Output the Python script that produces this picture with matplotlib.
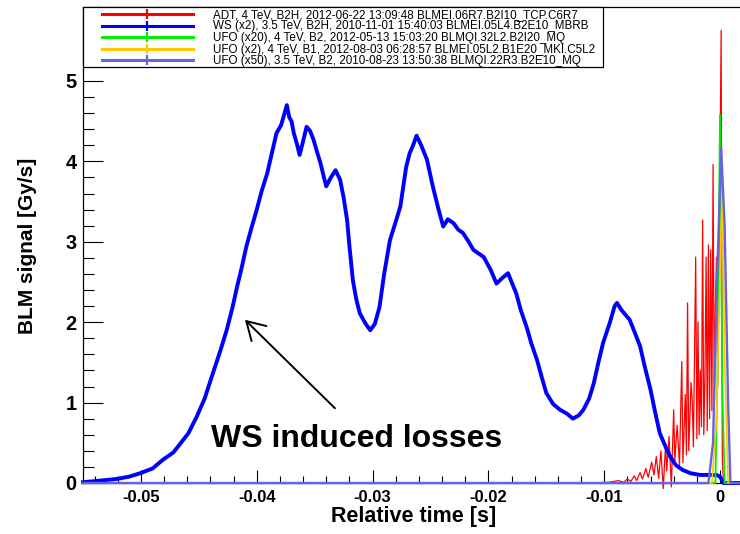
import matplotlib
matplotlib.use("Agg")
import matplotlib.pyplot as plt
from matplotlib.ticker import MultipleLocator
from matplotlib.patches import Rectangle

plt.rcParams['font.family'] = ['Liberation Sans', 'DejaVu Sans']

# ---- series ----
legend_labels = [
    "ADT, 4 TeV, B2H, 2012-06-22 13:09:48 BLMEI.06R7.B2I10_TCP.C6R7",
    "WS (x2), 3.5 TeV, B2H, 2010-11-01 15:40:03 BLMEI.05L4.B2E10_MBRB",
    "UFO (x20), 4 TeV, B2, 2012-05-13 15:03:20 BLMQI.32L2.B2I20_MQ",
    "UFO (x2), 4 TeV, B1, 2012-08-03 06:28:57 BLMEI.05L2.B1E20_MKI.C5L2",
    "UFO (x50), 3.5 TeV, B2, 2010-08-23 13:50:38 BLMQI.22R3.B2E10_MQ",
]
series_colors = ["#ff0000", "#0000ff", "#00ee00", "#ffc800", "#6464dc"]

adt_time = [
    -0.0110, -0.0095, -0.0088, -0.0083, -0.0080, -0.0077, -0.0074, -0.0072, -0.0069, -0.0067,
    -0.0064, -0.0062, -0.0059, -0.0057, -0.0055, -0.0053, -0.0051, -0.0049, -0.0047, -0.0046,
    -0.0044, -0.0042, -0.0040, -0.0039, -0.0037, -0.0035, -0.0033, -0.0032, -0.0030, -0.0029,
    -0.0028, -0.0027, -0.0025, -0.0024, -0.0023, -0.0022, -0.0021, -0.0020, -0.0019, -0.0018,
    -0.0017, -0.0016, -0.0015, -0.0014, -0.0013, -0.0012, -0.0011, -0.0010, -0.0009, -0.0008,
    -0.0007, -0.0006, -0.0005, -0.0004, -0.0003, -0.0002, -0.0001, 0.0001, 0.0002, 0.0003, 0.0017]
adt_signal = [
    0.00, 0.01, 0.03, 0.01, 0.05, 0.02, 0.09, 0.03, 0.13, 0.05,
    0.18, 0.07, 0.26, 0.10, 0.33, 0.06, 0.40, -0.07, 0.48, 0.15,
    0.58, -0.05, 0.91, 0.28, 0.72, 0.22, 1.51, 0.25, 1.10, 0.35,
    2.24, 0.40, 1.25, 1.03, 0.45, 1.60, 2.81, 0.55, 2.00, 0.60,
    1.40, 0.70, 3.27, 0.60, 1.30, 2.81, 0.65, 2.96, 0.80, 2.90,
    0.90, 3.96, 1.10, 2.20, 2.81, 1.20, 2.40, 5.63, 0.30, 0.00, 0.00]

ws_time = [
    -0.0550, -0.0535, -0.0521, -0.0510, -0.0501, -0.0490, -0.0481, -0.0472, -0.0466, -0.0459,
    -0.0452, -0.0445, -0.0438, -0.0432, -0.0426, -0.0421, -0.0417, -0.0413, -0.0409, -0.0405,
    -0.0400, -0.0396, -0.0391, -0.0387, -0.0383, -0.0379, -0.0376, -0.0374, -0.0372, -0.0370,
    -0.0368, -0.0365, -0.0363, -0.0360, -0.0357, -0.0354, -0.0351, -0.0348, -0.0345, -0.0342,
    -0.0340, -0.0336, -0.0332, -0.0328, -0.0325, -0.0322, -0.0320, -0.0317, -0.0314, -0.0311,
    -0.0306, -0.0302, -0.0298, -0.0294, -0.0290, -0.0285, -0.0280, -0.0276, -0.0271, -0.0268,
    -0.0265, -0.0262, -0.0258, -0.0253, -0.0248, -0.0243, -0.0239, -0.0235, -0.0230, -0.0226,
    -0.0222, -0.0217, -0.0213, -0.0208, -0.0204, -0.0198, -0.0193, -0.0188, -0.0183, -0.0180,
    -0.0176, -0.0172, -0.0167, -0.0163, -0.0158, -0.0154, -0.0150, -0.0144, -0.0138, -0.0132,
    -0.0127, -0.0122, -0.0118, -0.0113, -0.0109, -0.0105, -0.0101, -0.0095, -0.0091, -0.0089,
    -0.0085, -0.0078, -0.0073, -0.0069, -0.0065, -0.0060, -0.0056, -0.0052, -0.0047, -0.0043,
    -0.0038, -0.0032, -0.0025, -0.0017, -0.0008, -0.0003, 0.0000, 0.0003, 0.0017]
ws_signal = [
    0.01, 0.03, 0.05, 0.08, 0.12, 0.18, 0.29, 0.38, 0.49, 0.62,
    0.82, 1.05, 1.36, 1.62, 1.90, 2.18, 2.44, 2.68, 2.94, 3.15,
    3.40, 3.62, 3.85, 4.10, 4.35, 4.45, 4.60, 4.70, 4.55, 4.50,
    4.35, 4.20, 4.08, 4.25, 4.43, 4.38, 4.27, 4.12, 3.98, 3.80,
    3.69, 3.80, 3.89, 3.77, 3.55, 3.27, 2.95, 2.52, 2.28, 2.11,
    1.98, 1.90, 1.98, 2.19, 2.60, 3.02, 3.25, 3.44, 3.93, 4.10,
    4.20, 4.32, 4.20, 4.02, 3.69, 3.40, 3.19, 3.28, 3.23, 3.15,
    3.11, 3.00, 2.90, 2.85, 2.81, 2.65, 2.48, 2.55, 2.61, 2.50,
    2.36, 2.15, 1.94, 1.74, 1.53, 1.32, 1.12, 0.98, 0.91, 0.86,
    0.80, 0.84, 0.91, 1.05, 1.24, 1.50, 1.74, 2.00, 2.20, 2.24,
    2.15, 2.03, 1.85, 1.70, 1.45, 1.16, 0.88, 0.62, 0.45, 0.33,
    0.22, 0.16, 0.12, 0.10, 0.10, 0.10, 0.08, 0.00, 0.00]

ufo20_time = [-0.0550, -0.0004, -0.0002, 0.0000, 0.0002, 0.0004, 0.0017]
ufo20_signal = [0.00, 0.00, 1.50, 4.58, 1.20, 0.00, 0.00]

ufo2_time = [-0.0550, -0.0007, -0.0003, 0.0002, 0.0004, 0.0007, 0.0017]
ufo2_signal = [0.00, 0.00, 0.80, 3.79, 1.50, 0.00, 0.00]

ufo50_time = [-0.0550, -0.0010, -0.0006, -0.0003, 0.0001, 0.0004, 0.0007, 0.0009, 0.0017]
ufo50_signal = [0.00, 0.00, 0.50, 2.30, 4.16, 3.20, 1.00, 0.00, 0.00]

x_ticks = [-0.05, -0.04, -0.03, -0.02, -0.01, 0.0]
x_tick_labels = ["-0.05", "-0.04", "-0.03", "-0.02", "-0.01", "0"]
y_ticks = [0, 1, 2, 3, 4, 5]

# ---- figure ----
W, H = 740, 534
fig = plt.figure(figsize=(W / 100, H / 100), dpi=100)
ax_left, ax_right, ax_top, ax_bottom = 82.7, 740, 7, 483
ax = fig.add_axes([ax_left / W, 1 - ax_bottom / H,
                   (ax_right - ax_left) / W, (ax_bottom - ax_top) / H])
ax.set_xlim(-0.05503, 0.001727)
ax.set_ylim(0, 5.92)

ax.plot(adt_time, adt_signal, color=series_colors[0], lw=0.9, clip_on=False, zorder=2)
ax.plot(ws_time, ws_signal, color=series_colors[1], lw=2.8, clip_on=False, zorder=3,
        solid_joinstyle='round')
ax.plot(ufo20_time, ufo20_signal, color=series_colors[2], lw=1.3, clip_on=False, zorder=4)
ax.plot(ufo2_time, ufo2_signal, color=series_colors[3], lw=1.2, clip_on=False, zorder=4.5)
ax.plot(ufo50_time, ufo50_signal, color=series_colors[4], lw=1.7, clip_on=False, zorder=5)

# axes styling
for s in ("left", "top", "bottom"):
    ax.spines[s].set_linewidth(0.9)
ax.spines["right"].set_visible(False)
ax.set_xticks(x_ticks)
ax.set_xticklabels(x_tick_labels)
ax.set_yticks(y_ticks)
ax.xaxis.set_minor_locator(MultipleLocator(0.002))
ax.yaxis.set_minor_locator(MultipleLocator(0.2))
ax.tick_params(axis='both', which='both', direction='in', top=False, right=False, width=0.8)
ax.tick_params(axis='x', which='major', length=9.4, pad=5)
ax.tick_params(axis='x', which='minor', length=5)
ax.tick_params(axis='y', which='major', length=14.4, pad=4.3)
ax.tick_params(axis='y', which='minor', length=7.7)
for lab in ax.get_xticklabels():
    lab.set_fontsize(12)
    lab.set_fontweight('bold')
for lab in ax.get_yticklabels():
    lab.set_fontsize(14.4)
    lab.set_fontweight('bold')

ax.set_xlabel("Relative time [s]", fontsize=15.5, fontweight='bold')
ax.xaxis.set_label_coords(0.504, -0.049)
ax.set_ylabel("BLM signal [Gy/s]", fontsize=15, fontweight='bold')
ax.yaxis.set_label_coords(-0.0695, 0.498)

# annotation
ax.annotate("", xy=(-0.04102, 2.03), xytext=(-0.03325, 0.93),
            arrowprops=dict(arrowstyle="->,head_length=0.64,head_width=0.38",
                            color="black", lw=1.4, mutation_scale=20,
                            shrinkA=0, shrinkB=0), zorder=7)
ax.text(-0.04393, 0.45, "WS induced losses", fontsize=23, fontweight='bold',
        ha='left', va='baseline', zorder=7)

# legend box at the top-left corner of the frame
def ax_x(px):
    return (px - ax_left) / (ax_right - ax_left)

def ax_y(py):
    return 1 - (py - ax_top) / (ax_bottom - ax_top)

ax.add_patch(Rectangle((0, ax_y(67)), ax_x(603), 1 - ax_y(67), transform=ax.transAxes,
                       facecolor='white', edgecolor='black', lw=0.9, zorder=10,
                       clip_on=False))
row_y = [14, 25.5, 37, 48.6, 60.2]
for label, color, ry in zip(legend_labels, series_colors, row_y):
    ax.plot([ax_x(101.7), ax_x(193.3)], [ax_y(ry), ax_y(ry)], transform=ax.transAxes,
            color=color, lw=2.2, zorder=11, clip_on=False)
    ax.plot([ax_x(146.7)], [ax_y(ry)], transform=ax.transAxes, color=color,
            marker='|', markersize=6.5, mew=1.6, zorder=11, clip_on=False)
    ax.text(ax_x(212.7), ax_y(ry + 4), label, transform=ax.transAxes, fontsize=8.4,
            ha='left', va='baseline', zorder=12, clip_on=True)

fig.savefig("out.png", dpi=100)
